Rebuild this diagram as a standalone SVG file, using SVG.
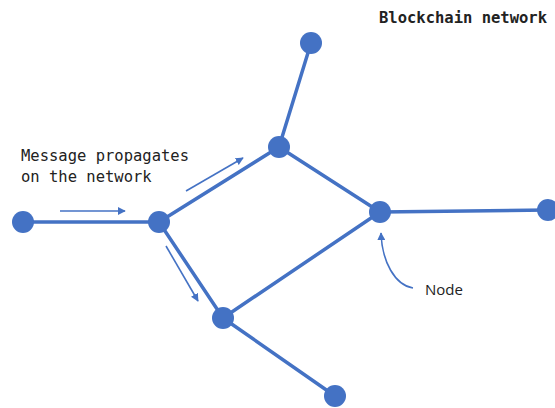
<svg xmlns="http://www.w3.org/2000/svg" width="555" height="408" viewBox="0 0 555 408">
<defs>
<style>
.edge{stroke:#4472C4;stroke-width:3.5;fill:none;stroke-linecap:round}
.arr{stroke:#4472C4;stroke-width:1.6;fill:none}
.node{fill:#4472C4}
.mono{font-family:"DejaVu Sans Mono","Liberation Mono",monospace;font-size:15.5px;fill:#222}
.sans{font-family:"Open Sans","Liberation Sans",sans-serif;font-size:15px;fill:#222}
</style>
<marker id="ah" viewBox="0 0 10 10" refX="9" refY="5" markerWidth="5" markerHeight="5" orient="auto" markerUnits="strokeWidth">
<path d="M0,0 L10,5 L0,10 z" fill="#4472C4"/>
</marker>
</defs>
<rect width="555" height="408" fill="#fff"/>
<g id="connectors">
<line class="edge" x1="23" y1="222" x2="159" y2="222"/>
<line class="edge" x1="159" y1="222" x2="279" y2="147"/>
<line class="edge" x1="279" y1="147" x2="311" y2="43"/>
<line class="edge" x1="279" y1="147" x2="380" y2="212"/>
<line class="edge" x1="380" y1="212" x2="548" y2="210"/>
<line class="edge" x1="159" y1="222" x2="223" y2="318"/>
<line class="edge" x1="223" y1="318" x2="380" y2="212"/>
<line class="edge" x1="223" y1="318" x2="335" y2="396"/>
<line class="arr" x1="60" y1="211" x2="125" y2="211" marker-end="url(#ah)"/>
<line class="arr" x1="186" y1="191" x2="243" y2="158" marker-end="url(#ah)"/>
<line class="arr" x1="166" y1="246" x2="198" y2="301" marker-end="url(#ah)"/>
<path class="arr" d="M413,288 C395,285 382,262 381,233" marker-end="url(#ah)"/>
</g>
<g id="n1"><circle class="node" cx="23" cy="222" r="11"/></g>
<g id="n2"><circle class="node" cx="159" cy="222" r="11"/></g>
<g id="n3"><circle class="node" cx="279" cy="147" r="11"/></g>
<g id="n4"><circle class="node" cx="311" cy="43" r="11"/></g>
<g id="n5"><circle class="node" cx="380" cy="212" r="11"/></g>
<g id="n6"><circle class="node" cx="548" cy="210" r="11"/></g>
<g id="n7"><circle class="node" cx="223" cy="318" r="11"/></g>
<g id="n8"><circle class="node" cx="335" cy="396" r="11"/></g>
<g id="labels">
<text class="mono" x="21" y="161">Message propagates</text>
<text class="mono" x="21" y="182">on the network</text>
<text class="mono" x="379" y="23" font-weight="bold">Blockchain network</text>
<text class="sans" x="425" y="295">Node</text>
</g>
</svg>
